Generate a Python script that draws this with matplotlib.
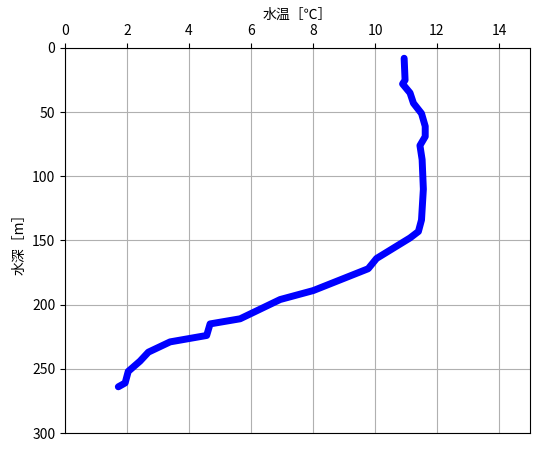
import numpy as np
import matplotlib.pyplot as plt

plt.rcParams['font.family'] = ['Noto Sans CJK JP', 'DejaVu Sans']

# depth [m] and water temperature [C]
depth = [8, 25, 28, 35, 43, 51, 61, 69, 76, 87, 110, 134, 143, 148, 164, 172,
         189, 196, 211, 215, 224, 229, 237, 244, 252, 261, 264]
temp = [10.94, 10.97, 10.89, 11.13, 11.24, 11.5, 11.62, 11.62, 11.45, 11.52,
        11.56, 11.5, 11.4, 11.13, 10.05, 9.78, 8.01, 6.94, 5.65, 4.68, 4.57,
        3.39, 2.69, 2.42, 2.04, 1.94, 1.72]

fig = plt.figure(figsize=(5.39, 4.51), dpi=100)
ax = fig.add_axes([0.1206, 0.0399, 0.8627, 0.8537])

ax.plot(temp, depth, color='blue', lw=5, solid_capstyle='round', solid_joinstyle='round')

ax.set_xlim(0, 15)
ax.set_ylim(300, 0)
ax.set_xticks(np.arange(0, 15, 2))
ax.set_yticks(np.arange(0, 301, 50))
ax.xaxis.tick_top()
ax.xaxis.set_label_position('top')
ax.set_xlabel('水温［℃］', fontsize=10)
ax.set_ylabel('水深［m］', fontsize=10)
ax.grid(True, color='#b0b0b0')

fig.savefig('out.png', dpi=100)
